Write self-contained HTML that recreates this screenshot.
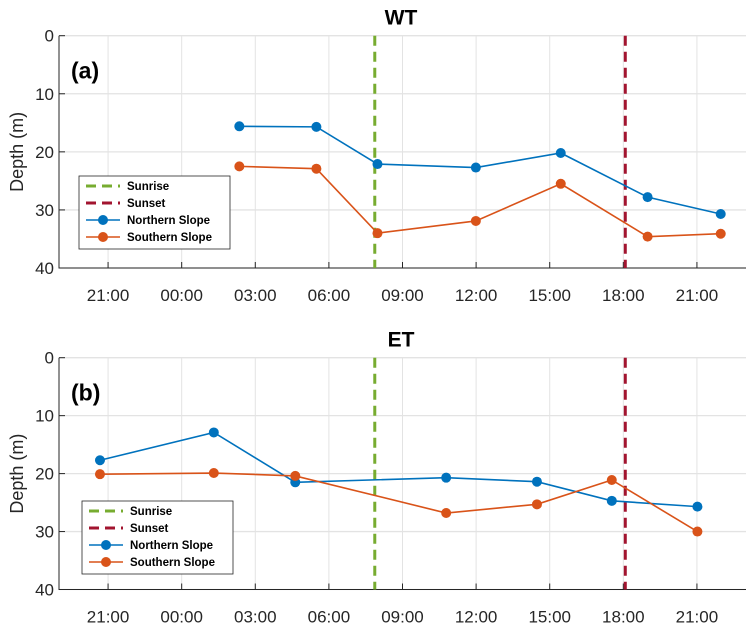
<!DOCTYPE html>
<html><head><meta charset="utf-8"><style>
body{margin:0;background:#fff;}
svg{display:block;font-family:"Liberation Sans",Arial,sans-serif;}
</style></head><body>
<svg id="fig" width="752" height="623" viewBox="0 0 752 623"></svg>
<script>
// hours since 21:00 of day 0
const xTickHours = [0,3,6,9,12,15,18,21,24];
const xTickLabels = ["21:00","00:00","03:00","06:00","09:00","12:00","15:00","18:00","21:00"];
const yTicks = [0,10,20,30,40];
const wtNorthHours = [5.35,8.49,10.98,14.99,18.45,21.99,24.97];
const wtNorthDepth = [15.6,15.7,22.1,22.7,20.2,27.8,30.7];
const wtSouthHours = [5.35,8.49,10.98,14.99,18.45,21.99,24.97];
const wtSouthDepth = [22.5,22.9,34.0,31.9,25.5,34.6,34.1];
const etNorthHours = [-0.33,4.31,7.63,13.78,17.48,20.53,24.02];
const etNorthDepth = [17.7,12.9,21.5,20.7,21.4,24.7,25.7];
const etSouthHours = [-0.33,4.31,7.63,13.78,17.48,20.53,24.02];
const etSouthDepth = [20.1,19.9,20.4,26.8,25.3,21.1,30.0];
const sunriseHour = [10.87];
const sunsetHour = [21.08];

const NS="http://www.w3.org/2000/svg";
const svg=document.getElementById('fig');
function mk(tag,attrs,parent){const e=document.createElementNS(NS,tag);for(const k in attrs)e.setAttribute(k,attrs[k]);(parent||svg).appendChild(e);return e;}

const X0=59,X1=746,HMIN=-2,HMAX=26;
function xs(h){return X0+(h-HMIN)/(HMAX-HMIN)*(X1-X0);}

function panel(top,bot,title,tag,nH,nD,sH,sD,leg,key){
  const g=mk('g',{});
  
  
  const ys=d=>top+d/40*(bot-top);
  xTickHours.forEach(h=>{const l=mk('line',{x1:xs(h),x2:xs(h),y1:top,y2:bot,stroke:'#e3e3e3','stroke-width':1},g);
    });
  yTicks.forEach(d=>{const l=mk('line',{x1:X0,x2:X1,y1:ys(d),y2:ys(d),stroke:'#e3e3e3','stroke-width':1.3},g);
    });
  const ax=mk('path',{d:`M${X0},${top} V${bot} H${X1}`,fill:'none',stroke:'#262626','stroke-width':1},g);
  
  xTickHours.forEach((h,i)=>{
    const t=mk('line',{x1:xs(h),x2:xs(h),y1:bot,y2:bot-6,stroke:'#262626'},g);
    
    const tx=mk('text',{x:xs(h),y:bot+33,'text-anchor':'middle','font-size':17,fill:'#262626'},g);
    tx.textContent=xTickLabels[i];
    
  });
  yTicks.forEach(d=>{
    const t=mk('line',{x1:X0,x2:X0+6,y1:ys(d),y2:ys(d),stroke:'#262626'},g);
    
    const tx=mk('text',{x:X0-5,y:ys(d)+6,'text-anchor':'end','font-size':17,fill:'#262626'},g);
    tx.textContent=d;
    
  });
  const yl=mk('text',{x:0,y:0,transform:`translate(23,${(top+bot)/2}) rotate(-90)`,'text-anchor':'middle','font-size':18,fill:'#262626'},g);
  yl.textContent='Depth (m)';
  const ti=mk('text',{x:401,y:top-11,'text-anchor':'middle','font-size':21,'font-weight':'bold',fill:'#000'},g);
  ti.textContent=title;
  const tg=mk('text',{x:71,y:top+43,'font-size':23,'font-weight':'bold',fill:'#000'},g);
  tg.textContent=tag;
  const sr=mk('line',{x1:xs(sunriseHour[0]),x2:xs(sunriseHour[0]),y1:top,y2:bot,stroke:'#77AC30','stroke-width':3,'stroke-dasharray':'10,6'},g);
  
  const ss=mk('line',{x1:xs(sunsetHour[0]),x2:xs(sunsetHour[0]),y1:top,y2:bot,stroke:'#A2142F','stroke-width':3,'stroke-dasharray':'10,6'},g);
  
  [[nH,nD,'#0072BD','northern-slope'],[sH,sD,'#D95319','southern-slope']].forEach(([H,D,c,n])=>{
    const pl=mk('polyline',{points:H.map((h,i)=>xs(h)+','+ys(D[i])).join(' '),fill:'none',stroke:c,'stroke-width':1.6},g);
    
    H.forEach((h,i)=>{const p=mk('circle',{cx:xs(h),cy:ys(D[i]),r:5,fill:c},g);
      });
  });
  const lg=mk('g',{},g);
  
  mk('rect',{x:leg[0],y:leg[1],width:151,height:73,fill:'#fff',stroke:'#262626','stroke-width':0.8},lg);
  const items=[['Sunrise','#77AC30',true],['Sunset','#A2142F',true],['Northern Slope','#0072BD',false],['Southern Slope','#D95319',false]];
  items.forEach((it,i)=>{
    const yy=leg[1]+10+i*17;
    const e=mk('g',{},lg);
    
    if(it[2]) mk('line',{x1:leg[0]+7,x2:leg[0]+41,y1:yy,y2:yy,stroke:it[1],'stroke-width':3,'stroke-dasharray':'10,6'},e);
    else {mk('line',{x1:leg[0]+7,x2:leg[0]+41,y1:yy,y2:yy,stroke:it[1],'stroke-width':1.6},e);mk('circle',{cx:leg[0]+24,cy:yy,r:5,fill:it[1]},e);}
    const t=mk('text',{x:leg[0]+48,y:yy+4,'font-size':11.5,'font-weight':'bold',fill:'#000'},e);t.textContent=it[0];
  });
}
panel(35.7,268,'WT','(a)',wtNorthHours,wtNorthDepth,wtSouthHours,wtSouthDepth,[79,176],'wt');
panel(357.7,589.5,'ET','(b)',etNorthHours,etNorthDepth,etSouthHours,etSouthDepth,[82,501],'et');
</script>
</body></html>
